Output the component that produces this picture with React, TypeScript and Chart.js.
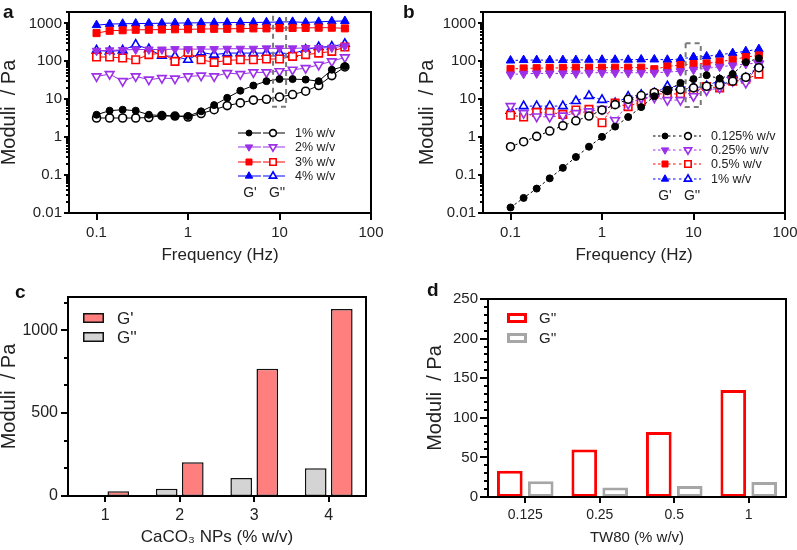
import React, { useEffect, useRef, useState } from 'react';
import { Chart, registerables } from 'chart.js';
Chart.register(...registerables);

const FONT = "'Liberation Sans', Arial, Helvetica, sans-serif";
const TXT = '#222';

// ---------- shared frequency axis (Hz) ----------
const FREQ = [0.1, 0.139, 0.193, 0.268, 0.373, 0.518, 0.72, 1, 1.39, 1.93, 2.68, 3.73, 5.18, 7.2, 10, 13.9, 19.3, 26.8, 37.3, 51.8];
const X_LOG_TICKS = [0.1, 1, 10, 100];
const Y_LOG_TICKS = [0.01, 0.1, 1, 10, 100, 1000];

// ---------- panel a : CaCO3 NPs ----------
const A_1_GP = [3.9, 5.0, 5.3, 5.0, 3.9, 3.7, 3.6, 3.6, 4.8, 7.0, 10.9, 16.8, 23, 30, 34, 34, 33, 30, 60, 74];
const A_1_GPP = [3.2, 3.2, 3.2, 3.2, 3.3, 3.7, 3.6, 3.4, 4.2, 5.3, 6.8, 8.0, 9.5, 10, 11.5, 13.3, 16.3, 23, 42, 71];
const A_2_GP = [190, 195, 200, 205, 205, 205, 210, 210, 210, 210, 215, 215, 215, 220, 220, 220, 225, 225, 230, 250];
const A_2_GPP = [40, 46, 30, 40, 33, 36, 35, 40, 42, 40, 49, 46, 51, 51, 55, 60, 66, 81, 100, 127];
const A_3_GP = [555, 640, 660, 680, 680, 690, 700, 700, 710, 720, 720, 730, 740, 740, 750, 760, 760, 770, 770, 740];
const A_3_GPP = [130, 130, 122, 110, 150, 165, 100, 172, 110, 94, 106, 110, 110, 115, 115, 135, 150, 165, 183, 238];
const A_4_GP = [900, 960, 980, 990, 1000, 1010, 1020, 1030, 1040, 1040, 1050, 1060, 1060, 1070, 1090, 1100, 1060, 1100, 1140, 1160];
const A_4_GPP = [195, 183, 195, 275, 210, 140, 135, 110, 172, 150, 165, 165, 165, 165, 165, 160, 203, 238, 245, 290];

// ---------- panel b : TW80 ----------
const B_0125_GP = [0.014, 0.025, 0.044, 0.082, 0.155, 0.30, 0.56, 1.02, 1.9, 3.4, 6.2, 12, 17, 27, 34, 43, 35, 46, 95, 120];
const B_0125_GPP = [0.56, 0.76, 1.05, 1.45, 2.0, 2.7, 3.6, 5.2, 7.2, 10, 12.5, 15, 17, 18, 20, 22, 24, 30, 38, 68];
const B_025_GP = [45, 47, 48, 48, 48, 48, 50, 50, 50, 50, 50, 50, 52, 55, 60, 65, 72, 78, 85, 90];
const B_025_GPP = [6.6, 4.3, 3.5, 3.4, 3.7, 4.3, 4.8, 5.5, 2.8, 7.5, 10.5, 11, 9.5, 9.5, 12, 17, 20, 30, 27, 85];
const B_05_GP = [63, 65, 66, 67, 67, 68, 68, 68, 68, 68, 68, 62, 73, 80, 85, 88, 98, 110, 130, 143];
const B_05_GPP = [3.8, 3.4, 4.5, 4.5, 4.0, 5.2, 5.4, 2.4, 7.9, 6.4, 8.7, 14, 13.6, 14, 16, 21.6, 20, 30, 34, 46];
const B_1_GP = [105, 108, 108, 108, 108, 108, 110, 110, 110, 110, 112, 112, 110, 115, 130, 135, 150, 165, 185, 210];
const B_1_GPP = [5.0, 6.6, 6.6, 6.6, 6.6, 9.0, 12.3, 9.6, 7.9, 11.7, 13, 14.4, 22, 21.6, 20, 22, 32, 44, 36, 81];

// ---------- panel c ----------
const C_LABELS = ['1', '2', '3', '4'];
const C_GP = [28, 204, 768, 1127];
const C_GPP = [4, 44, 109, 168];
const C_Y_TICKS = [0, 500, 1000];

// ---------- panel d ----------
const D_LABELS = ['0.125', '0.25', '0.5', '1'];
const D_RED = [33, 60, 82, 135];
const D_GREY = [20, 12, 14, 19];
const D_Y_TICKS = [0, 50, 100, 150, 200, 250];

type Mk = 'circle' | 'triangle' | 'triangleDown' | 'rect';
interface Series { label: string; color: string; marker: Mk; gp: number[]; gpp: number[]; }

const A_SERIES: Series[] = [
  { label: '1% w/v', color: '#000000', marker: 'circle', gp: A_1_GP, gpp: A_1_GPP },
  { label: '2% w/v', color: '#9B30E8', marker: 'triangleDown', gp: A_2_GP, gpp: A_2_GPP },
  { label: '3% w/v', color: '#FF0000', marker: 'rect', gp: A_3_GP, gpp: A_3_GPP },
  { label: '4% w/v', color: '#0000FF', marker: 'triangle', gp: A_4_GP, gpp: A_4_GPP },
];
const B_SERIES: Series[] = [
  { label: '0.125% w/v', color: '#000000', marker: 'circle', gp: B_0125_GP, gpp: B_0125_GPP },
  { label: '0.25% w/v', color: '#9B30E8', marker: 'triangleDown', gp: B_025_GP, gpp: B_025_GPP },
  { label: '0.5% w/v', color: '#FF0000', marker: 'rect', gp: B_05_GP, gpp: B_05_GPP },
  { label: '1% w/v', color: '#0000FF', marker: 'triangle', gp: B_1_GP, gpp: B_1_GPP },
];

const LOG_MINOR: number[] = [];
for (let e = -2; e <= 3; e++) for (let m = 2; m <= 9; m++) { const v = m * Math.pow(10, e); if (v <= 2000) LOG_MINOR.push(v); }
const C_MINOR = [166.67, 333.33, 666.67, 833.33, 1166.67];
const D_MINOR: number[] = [];
for (let v = 10; v < 250; v += 10) if (v % 50 !== 0) D_MINOR.push(v);

// frame / tick styling per panel
const FRAME_STYLE: Record<string, any> = {
  a: { xLen: 7, yLen: 5, yMinorLen: 3, majors: Y_LOG_TICKS, minors: LOG_MINOR, box: [8.5, 11.8, 6.3, 2000] },
  b: { xLen: 7, yLen: 5, yMinorLen: 3, majors: Y_LOG_TICKS, minors: LOG_MINOR, box: [8.2, 12.0, 6.2, 300] },
  c: { xLen: 6, yLen: 7, yMinorLen: 4, majors: C_Y_TICKS, minors: C_MINOR, category: true },
  d: { xLen: 6, yLen: 8, yMinorLen: 4, majors: D_Y_TICKS, minors: D_MINOR, category: true },
};

function markerRadius(m: Mk, open: boolean) {
  if (m === 'circle') return open ? 4 : 3.5;
  if (m === 'rect') return open ? 5.3 : 5;
  return 5;
}

function drawMarker(ctx: CanvasRenderingContext2D, m: Mk, x: number, y: number, r: number, fill: string, stroke: string, lw: number) {
  ctx.beginPath();
  if (m === 'circle') ctx.arc(x, y, r, 0, Math.PI * 2);
  else if (m === 'rect') { const s = r * Math.SQRT1_2; ctx.rect(x - s, y - s, 2 * s, 2 * s); }
  else {
    const base = m === 'triangle' ? 0 : Math.PI;
    for (let i = 0; i < 3; i++) {
      const a = base + i * (2 * Math.PI / 3);
      const px = x + Math.sin(a) * r, py = y - Math.cos(a) * r;
      if (i === 0) ctx.moveTo(px, py); else ctx.lineTo(px, py);
    }
    ctx.closePath();
  }
  ctx.fillStyle = fill; ctx.fill();
  ctx.lineWidth = lw; ctx.strokeStyle = stroke; ctx.setLineDash([]); ctx.stroke();
}

function lineDatasets(series: Series[], dash: number[]) {
  const out: any[] = [];
  series.forEach((s) => {
    [false, true].forEach((open) => {
      const vals = open ? s.gpp : s.gp;
      out.push({
        label: s.label + (open ? " G''" : " G'"),
        data: FREQ.map((f, i) => ({ x: f, y: vals[i] })),
        showLine: true,
        borderColor: s.color,
        borderWidth: 1,
        borderDash: dash,
        pointStyle: s.marker === 'triangleDown' ? 'triangle' : s.marker,
        pointRotation: s.marker === 'triangleDown' ? 180 : 0,
        pointRadius: markerRadius(s.marker, open),
        pointBackgroundColor: open ? '#ffffff' : s.color,
        pointBorderColor: s.color,
        pointBorderWidth: open ? 1.6 : 1,
      });
    });
  });
  return out;
}

// dashed annotation box (canvas)
function makeBoxPlugin(key: string) {
  return {
    id: 'box' + key,
    afterDraw(chart: any) {
      const st = FRAME_STYLE[key];
      if (!st.box) return;
      const ctx: CanvasRenderingContext2D = chart.ctx;
      const xs = chart.scales.x, ys = chart.scales.y;
      const x0 = xs.getPixelForValue(st.box[0]), x1 = xs.getPixelForValue(st.box[1]);
      const y0 = Math.max(ys.top, ys.getPixelForValue(st.box[3])), y1 = ys.getPixelForValue(st.box[2]);
      ctx.save();
      ctx.setLineDash([5, 4]);
      ctx.strokeStyle = '#7a7a7a';
      ctx.lineWidth = 2;
      ctx.strokeRect(x0, y0, x1 - x0, y1 - y0);
      ctx.restore();
    },
  };
}

// frame and tick marks, positioned from the chart's scales
interface Mark { l: number; t: number; w: number; h: number; }
function frameMarks(chart: any, key: string): Mark[] {
  const st = FRAME_STYLE[key];
  const xs = chart.scales.x, ys = chart.scales.y;
  const L = Math.round(xs.left), R = Math.round(xs.right), T = Math.round(ys.top), B = Math.round(ys.bottom);
  const m: Mark[] = [
    { l: L - 1, t: T - 1, w: R - L + 2, h: 2 },
    { l: L - 1, t: B - 1, w: R - L + 2, h: 2 },
    { l: L - 1, t: T - 1, w: 2, h: B - T + 2 },
    { l: R - 1, t: T - 1, w: 2, h: B - T + 2 },
  ];
  const xPix: number[] = st.category
    ? chart.data.labels.map((_l: any, i: number) => xs.getPixelForTick(i))
    : X_LOG_TICKS.map((v) => xs.getPixelForValue(v));
  xPix.forEach((p) => m.push({ l: Math.round(p) - 1, t: B, w: 2, h: st.xLen }));
  st.majors.forEach((v: number) => {
    const p = Math.round(ys.getPixelForValue(v));
    m.push({ l: L - st.yLen, t: p - 1, w: st.yLen, h: 2 });
  });
  st.minors.forEach((v: number) => {
    if (v < ys.min || v > ys.max) return;
    const p = Math.round(ys.getPixelForValue(v));
    m.push({ l: L - st.yMinorLen, t: p - 1, w: st.yMinorLen, h: 1.5 });
  });
  return m;
}

// legend for panels a and b
function makeSeriesLegend(series: Series[], dash: number[], L: any) {
  return {
    id: 'seriesLegend',
    afterDraw(chart: any) {
      const ctx: CanvasRenderingContext2D = chart.ctx;
      ctx.save();
      series.forEach((s, i) => {
        const y = L.rows[i];
        ctx.strokeStyle = s.color; ctx.lineWidth = 1; ctx.setLineDash(dash);
        ctx.beginPath(); ctx.moveTo(L.seg1[0], y); ctx.lineTo(L.seg1[1], y); ctx.stroke();
        ctx.beginPath(); ctx.moveTo(L.seg2[0], y); ctx.lineTo(L.seg2[1], y); ctx.stroke();
        drawMarker(ctx, s.marker, L.m1, y, markerRadius(s.marker, false) * 0.85, s.color, s.color, 1);
        drawMarker(ctx, s.marker, L.m2, y, markerRadius(s.marker, true) * 0.85, '#fff', s.color, 1.6);
        ctx.fillStyle = TXT; ctx.font = `${L.fontSize}px ${FONT}`;
        ctx.textAlign = 'left'; ctx.textBaseline = 'middle';
        ctx.fillText(s.label, L.textX, y + 0.5);
      });
      ctx.font = `${L.gFontSize}px ${FONT}`;
      ctx.textAlign = 'center'; ctx.textBaseline = 'middle';
      ctx.fillStyle = TXT;
      ctx.fillText("G'", L.g1, L.gy);
      ctx.fillText("G''", L.g2, L.gy);
      ctx.restore();
    },
  };
}

// legend for bar panels c and d
function makeBarLegend(L: any) {
  return {
    id: 'barLegend',
    afterDraw(chart: any) {
      const ctx: CanvasRenderingContext2D = chart.ctx;
      ctx.save();
      L.order.forEach((idx: number, i: number) => {
        const ds = chart.data.datasets[idx];
        const y = L.rows[i];
        const lw = ds.borderWidth;
        ctx.fillStyle = ds.backgroundColor;
        ctx.fillRect(L.x, y - L.h / 2, L.w, L.h);
        ctx.strokeStyle = ds.borderColor; ctx.lineWidth = lw;
        ctx.strokeRect(L.x + lw / 2, y - L.h / 2 + lw / 2, L.w - lw, L.h - lw);
        ctx.fillStyle = TXT; ctx.font = `${L.fontSize}px ${FONT}`;
        ctx.textAlign = 'left'; ctx.textBaseline = 'middle';
        ctx.fillText(ds.label, L.textX, y + 1);
      });
      ctx.restore();
    },
  };
}

const zeroPad = (s: any) => { s.paddingTop = 0; s.paddingBottom = 0; s.paddingLeft = 0; s.paddingRight = 0; };

function axisCommon(fontSize: number, pad: number) {
  return {
    grid: { display: false, drawTicks: false },
    border: { display: false },
    ticks: { font: { family: FONT, size: fontSize }, color: TXT, padding: pad, autoSkip: false, maxRotation: 0, callback: (v: any) => String(v) },
  };
}

function logConfig(key: string, series: Series[], dash: number[], p: any) {
  return {
    type: 'scatter',
    data: { datasets: lineDatasets(series, dash) },
    options: {
      responsive: false, animation: false, devicePixelRatio: 1,
      layout: { padding: p.padding },
      plugins: { legend: { display: false }, tooltip: { enabled: false } },
      scales: {
        x: {
          type: 'logarithmic', min: 0.05, max: 100,
          ...axisCommon(15, 11),
          afterBuildTicks: (s: any) => { s.ticks = X_LOG_TICKS.map((v) => ({ value: v })); },
          afterFit: (s: any) => { s.height = p.xh; zeroPad(s); },
          title: { display: true, text: 'Frequency (Hz)', color: TXT, font: { family: FONT, size: 17, lineHeight: 1.2 }, padding: { top: 0, bottom: 14 } },
        },
        y: {
          type: 'logarithmic', min: 0.01, max: 2000,
          ...axisCommon(15, 7),
          afterBuildTicks: (s: any) => { s.ticks = Y_LOG_TICKS.map((v) => ({ value: v })); },
          afterFit: (s: any) => { s.width = p.yw; zeroPad(s); },
          title: { display: true, text: 'Moduli  / Pa', color: TXT, font: { family: FONT, size: 20, lineHeight: 0.9 }, padding: { top: p.yTitlePad, bottom: 0 } },
        },
      },
    },
    plugins: [makeBoxPlugin(key), makeSeriesLegend(series, dash, p.legend)],
  };
}

function configA() {
  return logConfig('a', A_SERIES, [], {
    padding: { left: 0, top: 12, right: 29, bottom: 0 }, xh: 67, yw: 69, yTitlePad: 0,
    legend: { rows: [133, 147, 162, 176], seg1: [238, 261], seg2: [263, 285], m1: 249, m2: 273, textX: 295, fontSize: 12.5, gFontSize: 14, g1: 250, g2: 277, gy: 193 },
  });
}
function configB() {
  return logConfig('b', B_SERIES, [2.5, 2.5], {
    padding: { left: 0, top: 12, right: 12, bottom: 0 }, xh: 67, yw: 83, yTitlePad: 18,
    legend: { rows: [136, 150, 164, 179], seg1: [253, 277], seg2: [279, 301], m1: 265, m2: 288, textX: 311, fontSize: 12.5, gFontSize: 14, g1: 265, g2: 292, gy: 196 },
  });
}

function barConfig(key: string, majors: number[], p: any) {
  return {
    type: 'bar',
    data: { labels: p.labels, datasets: p.datasets },
    options: {
      responsive: false, animation: false, devicePixelRatio: 1,
      layout: { padding: p.padding },
      plugins: { legend: { display: false }, tooltip: { enabled: false } },
      scales: {
        x: {
          ...axisCommon(p.xFont, 10),
          ticks: { ...axisCommon(p.xFont, 10).ticks, callback: (_v: any, i: number) => p.labels[i] },
          afterFit: (s: any) => { s.height = p.xh; zeroPad(s); },
          title: { display: true, text: p.xTitle, color: TXT, font: { family: FONT, size: p.xTitleSize, lineHeight: 1.2 }, padding: { top: 0, bottom: p.xTitlePad } },
        },
        y: {
          min: 0, max: p.yMax,
          ...axisCommon(p.yFont, 10),
          afterBuildTicks: (s: any) => { s.ticks = majors.map((v) => ({ value: v })); },
          afterFit: (s: any) => { s.width = p.yw; zeroPad(s); },
          title: { display: true, text: 'Moduli  / Pa', color: TXT, font: { family: FONT, size: 20, lineHeight: 0.9 }, padding: { top: p.yTitlePad, bottom: 0 } },
        },
      },
    },
    plugins: [makeBarLegend(p.legend)],
  };
}

function configC() {
  return barConfig('c', C_Y_TICKS, {
    labels: C_LABELS,
    datasets: [
      { label: "G''", data: C_GPP, backgroundColor: '#D4D4D4', borderColor: '#111111', borderWidth: 1.5, borderSkipped: false, categoryPercentage: 0.7, barPercentage: 0.83 },
      { label: "G'", data: C_GP, backgroundColor: '#FF7F7F', borderColor: '#111111', borderWidth: 1.5, borderSkipped: false, categoryPercentage: 0.7, barPercentage: 0.83 },
    ],
    padding: { left: 0, top: 17, right: 34, bottom: 0 }, xh: 54, yw: 68,
    xFont: 16, yFont: 16, xTitle: 'CaCO\u2083 NPs (% w/v)', xTitleSize: 17, xTitlePad: 2, yTitlePad: 0,
    yMax: 1200,
    legend: { order: [1, 0], rows: [38, 57], x: 83, w: 21, h: 10, textX: 117, fontSize: 17 },
  });
}

function configD() {
  return barConfig('d', D_Y_TICKS, {
    labels: D_LABELS,
    datasets: [
      { label: "G''", data: D_RED, backgroundColor: '#ffffff', borderColor: '#FF0000', borderWidth: 3, borderSkipped: false, categoryPercentage: 0.83, barPercentage: 0.83 },
      { label: "G''", data: D_GREY, backgroundColor: '#ffffff', borderColor: '#A6A6A6', borderWidth: 3, borderSkipped: false, categoryPercentage: 0.83, barPercentage: 0.83 },
    ],
    padding: { left: 0, top: 19, right: 11, bottom: 0 }, xh: 53, yw: 88,
    xFont: 14, yFont: 15, xTitle: 'TW80 (% w/v)', xTitleSize: 15, xTitlePad: 3, yTitlePad: 26,
    yMax: 250,
    legend: { order: [0, 1], rows: [38, 58], x: 107, w: 20, h: 10, textX: 139, fontSize: 15 },
  });
}

function ChartCanvas({ id, left, top, width, height, make }: { id: string; left: number; top: number; width: number; height: number; make: () => any }) {
  const ref = useRef<HTMLCanvasElement>(null);
  const [marks, setMarks] = useState<Mark[]>([]);
  useEffect(() => {
    const chart = new Chart(ref.current as HTMLCanvasElement, make());
    setMarks(frameMarks(chart, id));
    return () => chart.destroy();
  }, []);
  return (
    <div style={{ position: 'absolute', left, top, width, height }}>
      <canvas ref={ref} width={width} height={height} style={{ position: 'absolute', left: 0, top: 0, width, height }} />
      {marks.map((m, i) => (
        <div key={i} style={{ position: 'absolute', left: m.l, top: m.t, width: m.w, height: m.h, background: '#000' }} />
      ))}
    </div>
  );
}

const letterStyle = (left: number, top: number): React.CSSProperties => ({
  position: 'absolute', left, top, fontFamily: FONT, fontWeight: 'bold', fontSize: 19, lineHeight: '19px', color: '#111',
});

export default function App() {
  return (
    <div style={{ position: 'fixed', left: 0, top: 0, width: 797, height: 550, background: '#fff', overflow: 'hidden' }}>
      <ChartCanvas id="a" left={0} top={0} width={400} height={280} make={configA} />
      <ChartCanvas id="b" left={400} top={0} width={397} height={280} make={configB} />
      <ChartCanvas id="c" left={0} top={280} width={400} height={270} make={configC} />
      <ChartCanvas id="d" left={400} top={280} width={397} height={270} make={configD} />
      <div style={letterStyle(3, 2)}>a</div>
      <div style={letterStyle(403, 2)}>b</div>
      <div style={letterStyle(15, 282)}>c</div>
      <div style={letterStyle(427, 280)}>d</div>
    </div>
  );
}
